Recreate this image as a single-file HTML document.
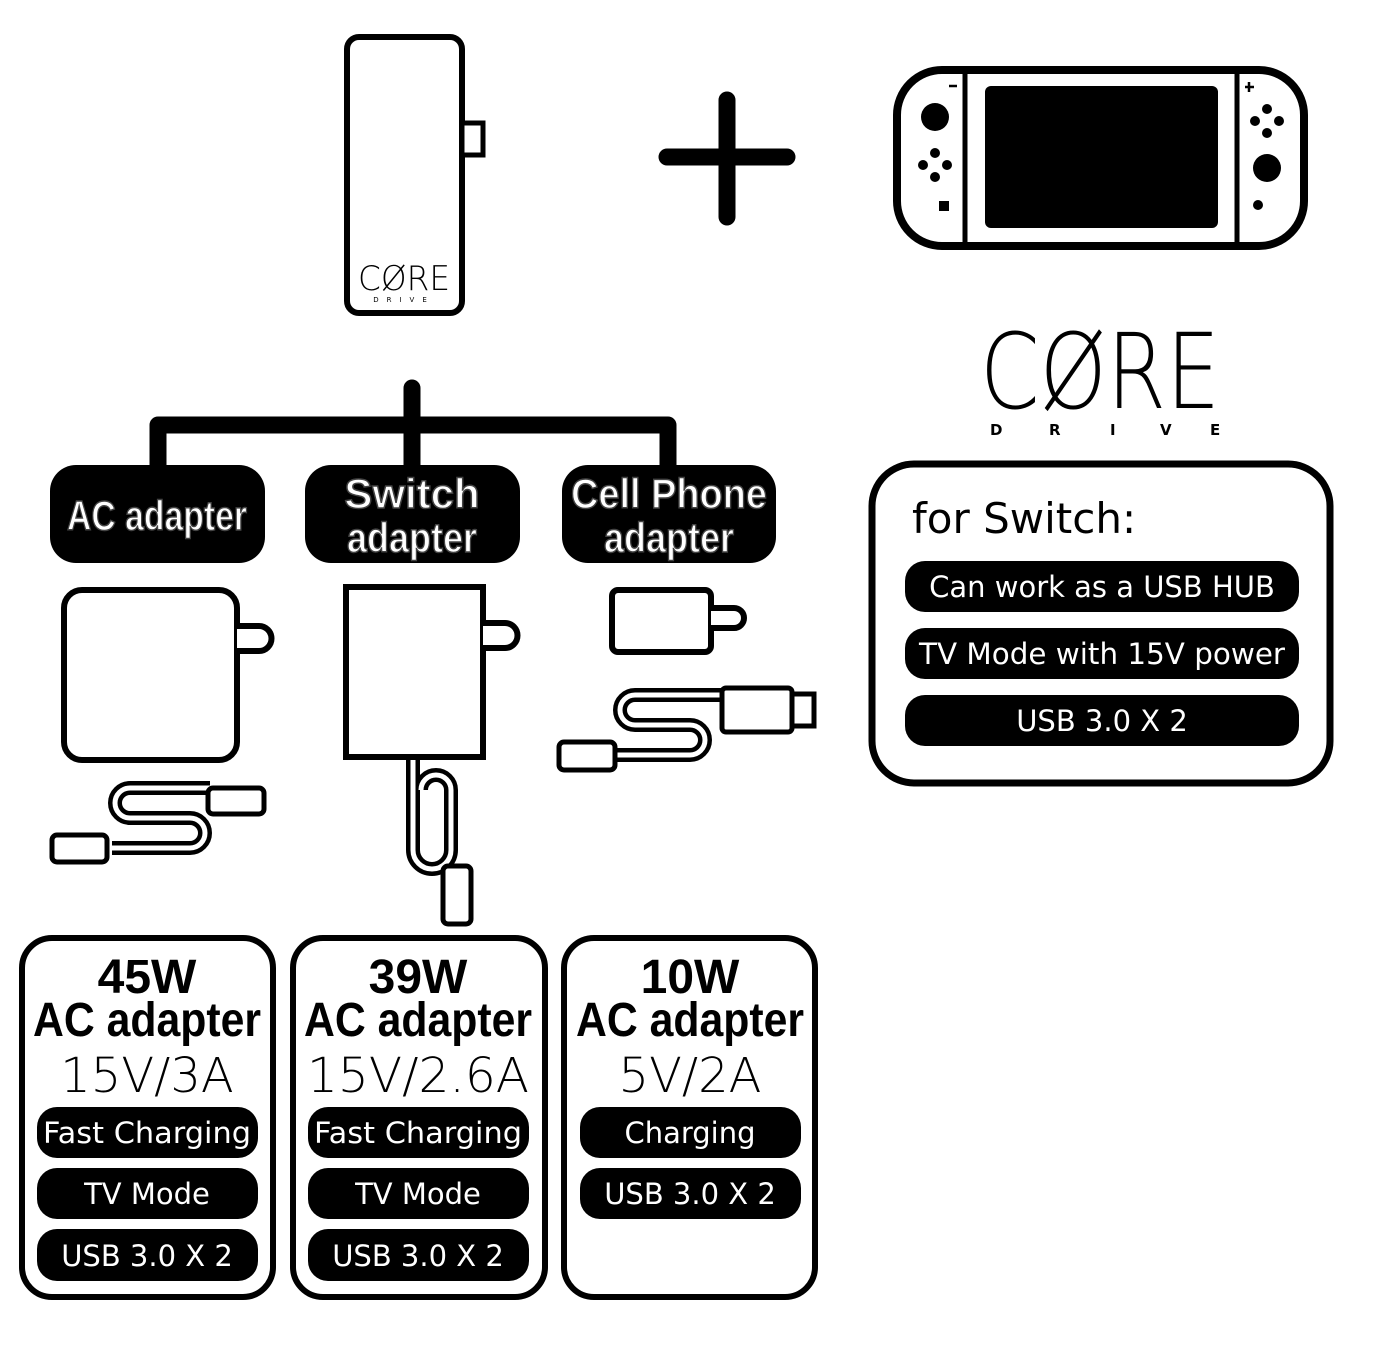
<!DOCTYPE html>
<html><head><style>
html,body{margin:0;padding:0;background:#fff;}
svg{display:block;}
.hd{font-family:"Liberation Sans Narrow","Liberation Sans",sans-serif;font-weight:bold;}
.th{font-family:"DejaVu Sans","Liberation Sans",sans-serif;}
</style></head><body>
<svg width="1373" height="1345" viewBox="0 0 1373 1345" xmlns="http://www.w3.org/2000/svg">
<!-- hub -->
<rect x="347" y="37" width="115" height="276" rx="12" fill="#fff" stroke="#000" stroke-width="6"/>
<rect x="462" y="123" width="21" height="32" fill="#fff" stroke="#000" stroke-width="5"/>
<text x="404" y="290" text-anchor="middle" class="th" font-size="34" font-weight="200" textLength="92" lengthAdjust="spacingAndGlyphs">CØRE</text>
<text x="404" y="302" text-anchor="middle" class="th" font-size="7" letter-spacing="8">DRIVE</text>
<!-- plus -->
<path d="M667 157 H787 M727 100 V217" stroke="#000" stroke-width="17" stroke-linecap="round"/>
<!-- switch -->
<rect x="897" y="70" width="407" height="176" rx="45" fill="#fff" stroke="#000" stroke-width="8"/>
<path d="M965 72 V244 M1237 72 V244" stroke="#000" stroke-width="5"/>
<rect x="985" y="86" width="233" height="142" rx="6" fill="#000"/>
<circle cx="935" cy="117" r="14" fill="#000"/>
<circle cx="1267" cy="168" r="14" fill="#000"/>
<circle cx="935" cy="153" r="5"/><circle cx="935" cy="177" r="5"/><circle cx="923" cy="165" r="5"/><circle cx="947" cy="165" r="5"/>
<circle cx="1267" cy="109" r="5"/><circle cx="1267" cy="133" r="5"/><circle cx="1255" cy="121" r="5"/><circle cx="1279" cy="121" r="5"/>
<rect x="939" y="201" width="10" height="10"/><circle cx="1258" cy="205" r="5"/>
<path d="M949 86 h8 M1245 87 h9 M1249 82 v10" stroke="#000" stroke-width="2.5"/>
<!-- logo -->
<text x="1100" y="408" text-anchor="middle" class="th" font-size="104" font-weight="200" textLength="240" lengthAdjust="spacingAndGlyphs">CØRE</text>
<text x="990" y="435" class="th" font-size="15" font-weight="bold">D</text>
<text x="1049" y="435" class="th" font-size="15" font-weight="bold">R</text>
<text x="1110" y="435" class="th" font-size="15" font-weight="bold">I</text>
<text x="1160" y="435" class="th" font-size="15" font-weight="bold">V</text>
<text x="1210" y="435" class="th" font-size="15" font-weight="bold">E</text>
<!-- info box -->
<rect x="872" y="464" width="458" height="319" rx="42" fill="#fff" stroke="#000" stroke-width="7"/>
<text x="912" y="533" class="th" font-size="42">for Switch:</text>
<rect x="905" y="561" width="394" height="51" rx="20"/>
<rect x="905" y="628" width="394" height="51" rx="20"/>
<rect x="905" y="695" width="394" height="51" rx="20"/>
<g class="th" font-size="29" fill="#fff" text-anchor="middle">
<text x="1102" y="597">Can work as a USB HUB</text>
<text x="1102" y="664" textLength="366" lengthAdjust="spacingAndGlyphs">TV Mode with 15V power</text>
<text x="1102" y="731">USB 3.0 X 2</text>
</g>
<!-- tree -->
<path d="M412 388 V470 M158 470 V425 H668 V470" stroke="#000" stroke-width="17" fill="none" stroke-linecap="round" stroke-linejoin="round"/>
<rect x="50" y="465" width="215" height="98" rx="26"/>
<rect x="305" y="465" width="215" height="98" rx="26"/>
<rect x="562" y="465" width="214" height="98" rx="26"/>
<g class="hd" fill="#fff" stroke="#444" stroke-width="1.5" text-anchor="middle" font-size="42">
<text x="157" y="530" textLength="180" lengthAdjust="spacingAndGlyphs">AC adapter</text>
<text x="412" y="508">Switch</text>
<text x="412" y="552" textLength="130" lengthAdjust="spacingAndGlyphs">adapter</text>
<text x="669" y="508" textLength="196" lengthAdjust="spacingAndGlyphs">Cell Phone</text>
<text x="669" y="552" textLength="130" lengthAdjust="spacingAndGlyphs">adapter</text>
</g>
<!-- adapters -->
<g fill="#fff" stroke="#000" stroke-width="6">
<rect x="64" y="590" width="173" height="170" rx="18"/>
<path d="M237 626 h22 a12 12 0 0 1 0 25 h-22"/>
<rect x="346" y="587" width="137" height="170"/>
<path d="M483 623 h22 a12 12 0 0 1 0 25 h-22"/>
<rect x="612" y="590" width="99" height="62" rx="6"/>
<path d="M711 608 h23 a10 10 0 0 1 0 20 h-23"/>
</g>
<g fill="none" stroke="#000" stroke-width="5">
<!-- cable 1 -->
<path d="M112 848 H190 a15 15 0 0 0 0 -30 H130 a15 15 0 0 1 0 -30 H210" stroke-width="14"/>
<path d="M112 848 H190 a15 15 0 0 0 0 -30 H130 a15 15 0 0 1 0 -30 H210" stroke="#fff" stroke-width="5"/>
<rect x="52" y="835" width="55" height="27" rx="5" fill="#fff"/>
<rect x="208" y="788" width="56" height="26" rx="5" fill="#fff"/>
<!-- cable 2 -->
<path d="M413 760 V850 a19 19 0 0 0 38 0 V790 a15 15 0 0 0 -30 0" stroke-width="14"/>
<path d="M413 760 V850 a19 19 0 0 0 38 0 V790 a15 15 0 0 0 -30 0" stroke="#fff" stroke-width="5"/>
<rect x="443" y="866" width="28" height="58" rx="5" fill="#fff"/>
<!-- cable 3 -->
<path d="M615 755 H690 a15 15 0 0 0 0 -30 H635 a15 15 0 0 1 0 -30 H725" stroke-width="14"/>
<path d="M615 755 H690 a15 15 0 0 0 0 -30 H635 a15 15 0 0 1 0 -30 H725" stroke="#fff" stroke-width="5"/>
<rect x="559" y="742" width="56" height="28" rx="5" fill="#fff"/>
<rect x="722" y="688" width="70" height="44" rx="4" fill="#fff"/>
<rect x="792" y="694" width="22" height="32" fill="#fff"/>
</g>
<!-- bottom boxes -->
<g fill="#fff" stroke="#000" stroke-width="6">
<rect x="22" y="938" width="251" height="359" rx="30"/>
<rect x="293" y="938" width="252" height="359" rx="30"/>
<rect x="564" y="938" width="251" height="359" rx="30"/>
</g>
<g class="hd" text-anchor="middle" font-size="48">
<text x="147" y="993">45W</text><text x="147" y="1036" textLength="228" lengthAdjust="spacingAndGlyphs">AC adapter</text>
<text x="418" y="993">39W</text><text x="418" y="1036" textLength="228" lengthAdjust="spacingAndGlyphs">AC adapter</text>
<text x="690" y="993">10W</text><text x="690" y="1036" textLength="228" lengthAdjust="spacingAndGlyphs">AC adapter</text>
</g>
<g class="th" text-anchor="middle" font-size="48" font-weight="200">
<text x="147" y="1092">15V/3A</text>
<text x="418" y="1092" textLength="222" lengthAdjust="spacingAndGlyphs">15V/2.6A</text>
<text x="690" y="1092">5V/2A</text>
</g>
<g>
<rect x="37" y="1107" width="221" height="51" rx="20"/><rect x="37" y="1168" width="221" height="51" rx="20"/><rect x="37" y="1229" width="221" height="52" rx="20"/>
<rect x="308" y="1107" width="221" height="51" rx="20"/><rect x="308" y="1168" width="221" height="51" rx="20"/><rect x="308" y="1229" width="221" height="52" rx="20"/>
<rect x="580" y="1107" width="221" height="51" rx="20"/><rect x="580" y="1168" width="221" height="51" rx="20"/>
</g>
<g class="th" fill="#fff" text-anchor="middle" font-size="29">
<text x="147" y="1143" textLength="208" lengthAdjust="spacingAndGlyphs">Fast Charging</text>
<text x="147" y="1204">TV Mode</text>
<text x="147" y="1266">USB 3.0 X 2</text>
<text x="418" y="1143" textLength="208" lengthAdjust="spacingAndGlyphs">Fast Charging</text>
<text x="418" y="1204">TV Mode</text>
<text x="418" y="1266">USB 3.0 X 2</text>
<text x="690" y="1143">Charging</text>
<text x="690" y="1204">USB 3.0 X 2</text>
</g>
</svg>
</body></html>
